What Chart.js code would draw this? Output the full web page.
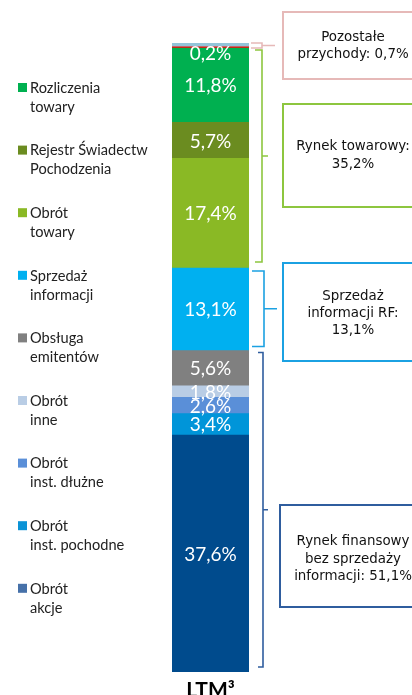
<!DOCTYPE html>
<html><head><meta charset="utf-8">
<script src="https://cdn.jsdelivr.net/npm/chart.js@4/dist/chart.umd.min.js"></script>
<style>html,body{margin:0;padding:0;background:#fff;overflow:hidden}</style>
</head><body>
<canvas id="c" width="412" height="695"></canvas>
<script>
// ---- DATA ----
const categories = ['LTM³'];
// stacked bottom -> top
const seriesNames = [
  ['Obrót', 'akcje'],
  ['Obrót', 'inst. pochodne'],
  ['Obrót', 'inst. dłużne'],
  ['Obrót', 'inne'],
  ['Obsługa', 'emitentów'],
  ['Sprzedaż', 'informacji'],
  ['Obrót', 'towary'],
  ['Rejestr Świadectw', 'Pochodzenia'],
  ['Rozliczenia', 'towary'],
  ['Pozostałe przychody'],
  ['Pozostałe przychody (reszta)']
];
const seriesValues = [37.6, 3.4, 2.6, 1.8, 5.6, 13.1, 17.4, 5.7, 11.8, 0.2, 0.6];
const showValueLabel = [true, true, true, true, true, true, true, true, true, true, false];
const inLegend = [true, true, true, true, true, true, true, true, true, false, false];
const groupNames = [
  ['Pozostałe', 'przychody: '],
  ['Rynek towarowy:', ''],
  ['Sprzedaż', 'informacji RF:', ''],
  ['Rynek finansowy', 'bez sprzedaży', 'informacji: ']
];
const groupTotals = [0.7, 35.2, 13.1, 51.1];
// series index ranges covered by each group [low, high]
const groupRanges = [[9, 10], [6, 8], [5, 5], [0, 4]];

// ---- STYLE ----
const barColors = ['#004B8D', '#0095D9', '#5A8FD8', '#B9CDE5', '#808080', '#00B0F0', '#8AB925', '#6B8C20', '#00B050', '#FF0000', '#93C4D9'];
const legendColors = ['#4671A9', '#0B93D6', '#5A8FD8', '#B9CDE5', '#808080', '#00B0F0', '#8AB925', '#6B8C20', '#00B050'];
const groupColors = ['#E6B9B8', '#8DC63F', '#1BA1E2', '#2F5D9E'];
const fmt = v => v.toFixed(1).replace('.', ',') + '%';

const datasets = seriesValues.map((v, i) => ({
  label: seriesNames[i].join(' '),
  data: [v],
  backgroundColor: barColors[i],
  borderWidth: 0,
  barPercentage: 1,
  categoryPercentage: 1
}));
const total = seriesValues.reduce((a, b) => a + b, 0);

const overlay = {
  id: 'overlay',
  afterDatasetsDraw(chart) {
    const ctx = chart.ctx;
    const metas = datasets.map((d, i) => chart.getDatasetMeta(i).data[0]);
    const top = chart.chartArea.top;
    ctx.save();
    // value labels
    ctx.fillStyle = '#fff';
    ctx.font = '19px Lato';
    ctx.textAlign = 'center';
    ctx.textBaseline = 'middle';
    metas.forEach((el, i) => {
      if (!showValueLabel[i]) return;
      let cy = (el.y + el.base) / 2;
      cy = Math.max(cy, top + 10);
      ctx.fillText(fmt(seriesValues[i]), el.x, cy + 1);
    });
    // category label
    ctx.fillStyle = '#000';
    ctx.font = 'bold 21px Lato';
    ctx.textBaseline = 'alphabetic';
    const xs = chart.scales.x;
    categories.forEach((c, k) => ctx.fillText(c, xs.getPixelForValue(k), 697));
    // legend
    ctx.textAlign = 'left';
    ctx.font = '14.6px Lato';
    ctx.textBaseline = 'middle';
    let k = 0;
    for (let i = seriesNames.length - 1; i >= 0; i--) {
      if (!inLegend[i]) continue;
      const y = 88 + k * 62.6;
      ctx.fillStyle = legendColors[i];
      ctx.fillRect(18, y - 5, 9, 9);
      ctx.fillStyle = '#222';
      seriesNames[i].forEach((t, j) => ctx.fillText(t, 30, y + j * 19));
      k++;
    }
    // brackets
    const ys = chart.scales.y;
    const cum = [];
    let s = 0;
    seriesValues.forEach(v => { cum.push([s, s + v]); s += v; });
    const bracketStyle = [
      {x: 262, arm: 11, tick: 13, ti: 0, bi: 0},
      {x: 262, arm: 7, tick: 6, ti: 2, bi: 6},
      {x: 264, arm: 12, tick: 13, ti: 3, bi: 4},
      {x: 263, arm: 5, tick: 5, ti: 2, bi: 5}
    ];
    groupRanges.forEach((r, g) => {
      const st = bracketStyle[g];
      const y0 = ys.getPixelForValue(cum[r[1]][1]) + st.ti;
      const y1 = ys.getPixelForValue(cum[r[0]][0]) - st.bi;
      const ym = (y0 + y1) / 2;
      ctx.strokeStyle = groupColors[g];
      ctx.lineWidth = 1.6;
      ctx.beginPath();
      ctx.moveTo(st.x - st.arm, y0);
      ctx.lineTo(st.x, y0);
      ctx.lineTo(st.x, y1);
      ctx.lineTo(st.x - st.arm, y1);
      ctx.moveTo(st.x, ym);
      ctx.lineTo(st.x + st.tick, ym);
      ctx.stroke();
    });
    // boxes
    const boxes = [
      {x: 283, y: 12, w: 142, h: 67, lines: [38, 55]},
      {x: 283, y: 104, w: 142, h: 103, lines: [147, 165]},
      {x: 283, y: 263, w: 142, h: 98, lines: [297, 314, 331]},
      {x: 280, y: 505, w: 145, h: 102, lines: [542, 560, 577]}
    ];
    ctx.font = '13.4px "DejaVu Sans"';
    ctx.textAlign = 'center';
    boxes.forEach((b, g) => {
      ctx.strokeStyle = groupColors[g];
      ctx.lineWidth = 2;
      ctx.strokeRect(b.x, b.y, b.w, b.h);
      ctx.fillStyle = '#111';
      const names = groupNames[g];
      names.forEach((t, j) => {
        const txt = j === names.length - 1 ? t + fmt(groupTotals[g]) : t;
        ctx.fillText(txt, 353, b.lines[j]);
      });
    });
    ctx.restore();
  }
};

new Chart(document.getElementById('c'), {
  type: 'bar',
  data: {labels: categories, datasets},
  options: {
    responsive: false,
    animation: false,
    layout: {padding: {left: 172, right: 163, top: 43, bottom: 23}},
    plugins: {legend: {display: false}, tooltip: {enabled: false}},
    scales: {
      x: {stacked: true, display: false},
      y: {stacked: true, display: false, min: 0, max: total}
    }
  },
  plugins: [overlay]
});
</script>
</body></html>
